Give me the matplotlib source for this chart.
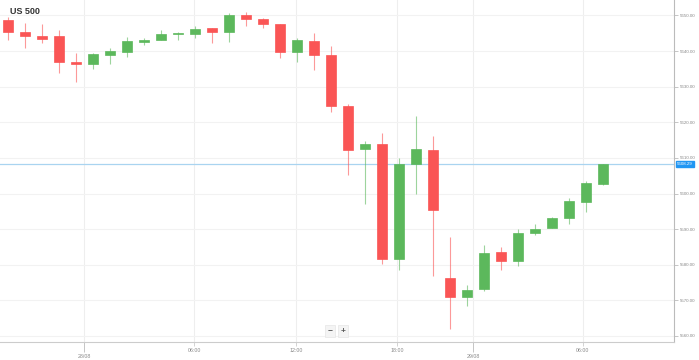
import numpy as np
import matplotlib.pyplot as plt
import matplotlib.transforms as mtransforms

plt.rcParams['font.family'] = ['Liberation Sans', 'DejaVu Sans']

# hourly candles, US 500
opens = [5648.7, 5645.4, 5644.2, 5644.2, 5636.9, 5636.4, 5638.9, 5639.8, 5642.6, 5643.1,
         5644.8, 5644.8, 5646.5, 5645.4, 5650.1, 5649.0, 5647.6, 5639.8, 5642.8, 5638.9,
         5624.6, 5612.5, 5613.9, 5581.6, 5608.3, 5612.2, 5576.3, 5570.9, 5573.2, 5583.6,
         5581.0, 5588.9, 5590.3, 5593.1, 5597.6, 5602.7]
highs = [5649.6, 5647.9, 5647.6, 5645.9, 5639.5, 5639.5, 5640.9, 5644.0, 5643.7, 5645.9,
         5645.4, 5647.1, 5646.5, 5650.7, 5651.0, 5649.3, 5647.6, 5643.7, 5645.1, 5641.4,
         5625.1, 5614.8, 5617.0, 5610.0, 5621.8, 5616.2, 5587.8, 5574.3, 5585.5, 5585.0,
         5590.0, 5591.4, 5593.4, 5598.7, 5603.5, 5608.3]
lows = [5643.1, 5640.9, 5642.3, 5633.9, 5631.3, 5635.0, 5636.4, 5638.3, 5641.7, 5643.1,
        5643.1, 5643.7, 5642.3, 5642.6, 5647.1, 5646.5, 5638.1, 5636.9, 5634.7, 5622.9,
        5605.2, 5597.1, 5580.2, 5578.5, 5599.9, 5576.8, 5561.9, 5568.4, 5572.6, 5578.5,
        5579.6, 5588.3, 5590.3, 5591.4, 5594.8, 5602.4]
closes = [5645.4, 5644.2, 5643.4, 5636.9, 5636.4, 5639.2, 5640.0, 5642.8, 5643.1, 5644.8,
          5645.1, 5646.2, 5645.4, 5650.1, 5649.0, 5647.6, 5639.8, 5643.1, 5638.9, 5624.6,
          5612.2, 5613.9, 5581.6, 5608.3, 5612.5, 5595.4, 5570.9, 5572.9, 5583.3, 5581.0,
          5588.9, 5590.0, 5593.1, 5597.9, 5603.0, 5608.3]
last_price = 5608.29

y_ticks = [5560, 5570, 5580, 5590, 5600, 5610, 5620, 5630, 5640, 5650]
time_ticks = [10.94, 16.94, 22.88, 33.82]
time_labels = ['06:00', '12:00', '18:00', '06:00']
date_ticks = [4.47, 27.35]
date_labels = ['28/08', '29/08']

red = '#fa5555'
green = '#5cb85c'

fig = plt.figure(figsize=(6.99, 3.6), dpi=100)
ax = fig.add_axes([0, 18 / 360, 674 / 699, 342 / 360])

x = np.arange(len(opens))
for i in x:
    o, h, l, c = opens[i], highs[i], lows[i], closes[i]
    col = green if c >= o else red
    ax.vlines(i, l, h, color=col, lw=0.8, alpha=0.6, zorder=2)
    ax.bar(i, max(abs(c - o), 0.35), bottom=min(o, c), width=0.6, color=col,
           edgecolor=col, lw=0.5, zorder=3)

# current price line
ax.axhline(last_price, color='#a9d4f0', lw=0.9, zorder=1)
trans = mtransforms.blended_transform_factory(ax.transAxes, ax.transData)
ax.text(1.005, last_price, '%.2f' % last_price, transform=trans, fontsize=3.2,
        color='white', va='center', ha='left',
        bbox=dict(boxstyle='square,pad=0.3', fc='#2196f3', ec='#2196f3'))

ax.set_xlim(-0.47, 39.18)
ax.set_ylim(5558.29, 5654.35)

ax.yaxis.tick_right()
ax.set_yticks(y_ticks)
ax.set_yticklabels(['%.2f' % v for v in y_ticks])
ax.tick_params(axis='y', length=3, width=0.6, color='#bbbbbb', labelsize=3.2,
               labelcolor='#888888', pad=1.2)

ax.set_xticks(time_ticks)
ax.set_xticklabels(time_labels)
ax.set_xticks(date_ticks, minor=True)
ax.set_xticklabels(date_labels, minor=True)
ax.tick_params(axis='x', which='major', length=3, width=0.6, color='#cccccc',
               labelsize=3.8, labelcolor='#888888', pad=1.5)
ax.tick_params(axis='x', which='minor', length=7, width=0.6, color='#bbbbbb',
               labelsize=3.8, labelcolor='#888888', pad=1.5)
for t in ax.xaxis.get_minor_ticks():
    t.tick1line.set_linestyle(':')

ax.grid(True, which='both', axis='x', color='#eeeeee', lw=0.8, zorder=0)
ax.grid(True, which='major', axis='y', color='#f2f2f2', lw=0.8, zorder=0)
ax.set_axisbelow(True)

for s in ['top', 'left']:
    ax.spines[s].set_visible(False)
ax.spines['right'].set_color('#bbbbbb')
ax.spines['bottom'].set_color('#cccccc')
ax.spines['right'].set_linewidth(0.8)
ax.spines['bottom'].set_linewidth(0.8)

ax.text(10 / 674, 1 - 11 / 342, 'US 500', transform=ax.transAxes, fontsize=6.5,
        fontweight='bold', color='#333333', va='center', ha='left')

# zoom buttons
for xp, s in [(330, '\u2212'), (343, '+')]:
    fig.text(xp / 699, 1 - 331 / 360, s, fontsize=6, fontweight='bold', color='#555555',
             ha='center', va='center',
             bbox=dict(boxstyle='square,pad=0.3', fc='#f4f4f4', ec='#e6e6e6', lw=0.5))

fig.savefig('out.png', dpi=100, facecolor='white')
